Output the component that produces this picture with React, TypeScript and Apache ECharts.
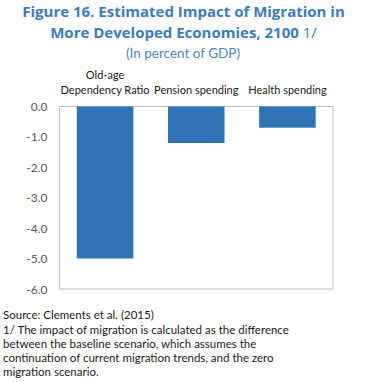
import React, { useEffect, useRef } from "react";
import * as echarts from "echarts";

const categories = ["Old-age\nDependency Ratio", "Pension spending", "Health spending"];
const values = [-5.0, -1.2, -0.7];
const yMin = -6;
const yMax = 0;
const yInterval = 1;
const titleLine1 = "Figure 16. Estimated Impact of Migration in";
const titleLine2 = "More Developed Economies, 2100 ";
const titleNote = "1/";
const subtitle = "(In percent of GDP)";
const footnoteLines = [
  "Source: Clements et al. (2015)",
  "1/ The impact of migration is calculated as the difference",
  "between the baseline scenario, which assumes the",
  "continuation of current migration trends, and the zero",
  "migration scenario.",
];
const footnoteY = [314, 329, 343, 357, 371];

const TITLE_FONT = "'Open Sans', 'Noto Sans', sans-serif";
const FONT = "Lato, 'Open Sans', sans-serif";
const TITLE_COLOR = "#3B7CBF";

export default function App() {
  const ref = useRef<HTMLDivElement>(null);
  useEffect(() => {
    if (!ref.current) return;
    const chart = echarts.init(ref.current, undefined, { renderer: "svg" });
    chart.setOption({
      animation: false,
      backgroundColor: "#ffffff",
      grid: {
        left: 59.5,
        right: 34,
        top: 106.5,
        bottom: 93,
        show: true,
        borderColor: "#BFBFBF",
        borderWidth: 1,
        backgroundColor: "transparent",
      },
      xAxis: {
        type: "category",
        position: "top",
        data: categories,
        axisLine: { show: false },
        axisTick: { show: false },
        axisLabel: {
          fontFamily: FONT,
          fontSize: 11,
          color: "#1a1a1a",
          margin: 10,
          lineHeight: 15,
          interval: 0,
        },
      },
      yAxis: {
        type: "value",
        min: yMin,
        max: yMax,
        interval: yInterval,
        splitLine: { show: false },
        axisLine: { show: false },
        axisTick: { show: false },
        axisLabel: {
          fontFamily: FONT,
          fontSize: 12,
          color: "#595959",
          margin: 12,
          formatter: (v: number) => v.toFixed(1),
        },
      },
      series: [
        {
          type: "bar",
          data: values,
          barWidth: "62%",
          itemStyle: { color: "#2E74B5" },
        },
      ],
      graphic: [
        {
          type: "text",
          x: 183.5,
          y: 11,
          style: {
            text: titleLine1,
            fontFamily: TITLE_FONT,
            fontWeight: "bold",
            fontSize: 15,
            fill: TITLE_COLOR,
            align: "center",
            verticalAlign: "middle",
          },
        },
        {
          type: "text",
          x: 183.5,
          y: 31.5,
          style: {
            text: `{b|${titleLine2}}{n|${titleNote}}`,
            align: "center",
            verticalAlign: "middle",
            rich: {
              b: { fontFamily: TITLE_FONT, fontWeight: "bold", fontSize: 15, fill: TITLE_COLOR, color: TITLE_COLOR },
              n: { fontFamily: TITLE_FONT, fontWeight: "normal", fontSize: 15, fill: TITLE_COLOR, color: TITLE_COLOR },
            },
          },
        },
        {
          type: "text",
          x: 183,
          y: 53,
          style: {
            text: subtitle,
            fontFamily: FONT,
            fontSize: 13.5,
            fill: "#4A86C5",
            align: "center",
            verticalAlign: "middle",
          },
        },
        ...footnoteLines.map((t, i) => ({
          type: "text",
          x: 3,
          y: footnoteY[i],
          style: {
            text: t,
            fontFamily: FONT,
            fontSize: 11.5,
            lineHeight: 13,
            fill: "#1a1a1a",
            align: "left",
            verticalAlign: "middle",
          },
        })),
      ],
    });
    return () => chart.dispose();
  }, []);
  return (
    <div
      ref={ref}
      style={{ position: "absolute", left: 0, top: 0, width: 367, height: 382 }}
    />
  );
}
